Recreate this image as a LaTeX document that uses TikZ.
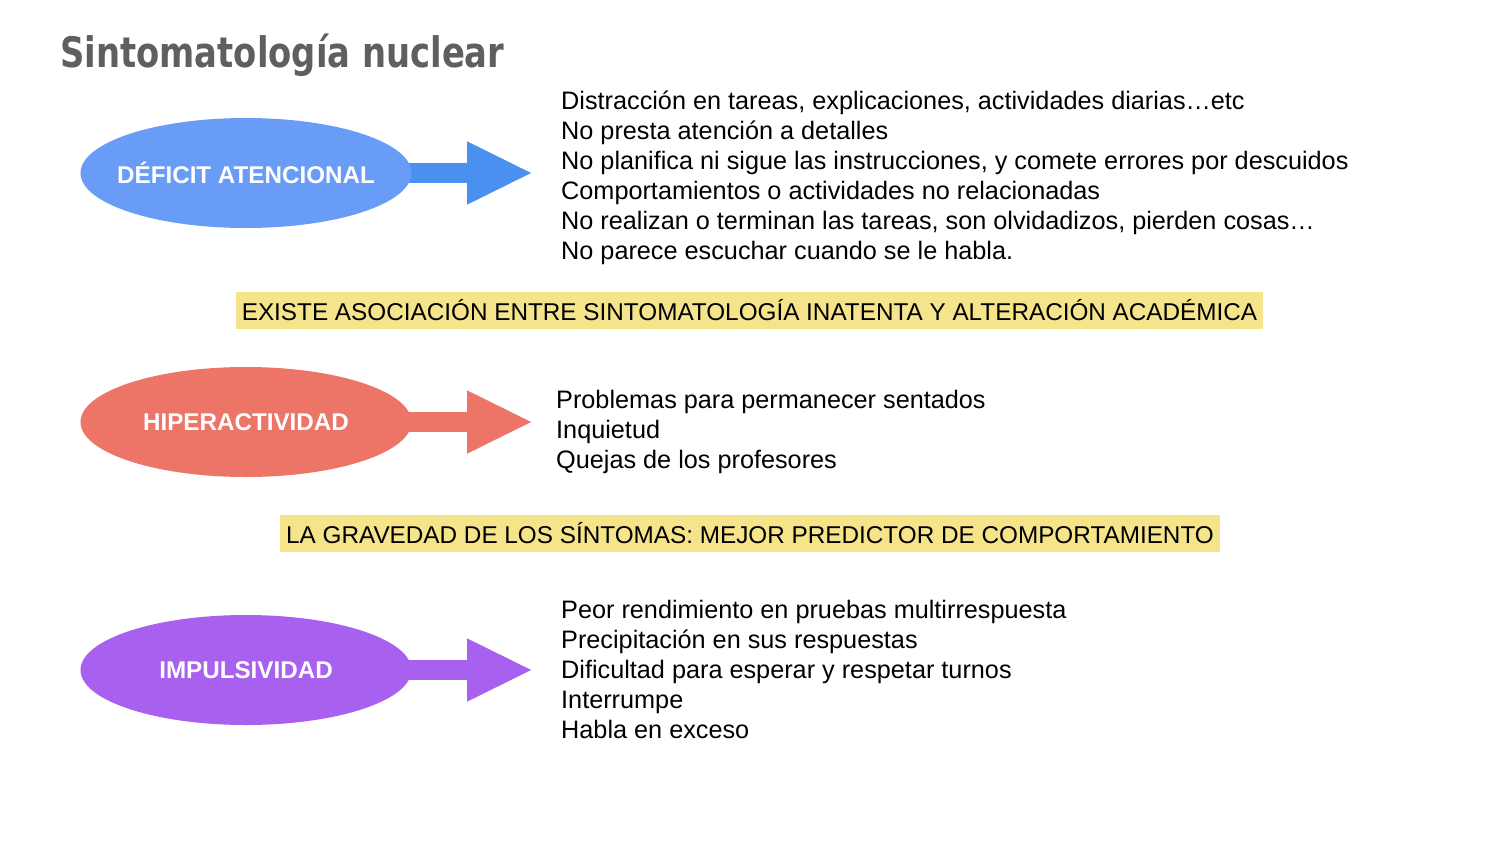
\documentclass[tikz,border=0pt]{standalone}
\usepackage{fontspec}
\setmainfont{Liberation Sans}
\newfontfamily\titlefont{DejaVu Sans}[FakeStretch=0.805]
\usetikzlibrary{shapes.geometric,arrows.meta}
\pgfdeclarelayer{background}
\pgfdeclarelayer{canvas}
\pgfsetlayers{canvas,background,main}
\definecolor{titlegray}{HTML}{5F5F5F}
\definecolor{blueell}{HTML}{699CF7}
\definecolor{bluearr}{HTML}{4A90F0}
\definecolor{redell}{HTML}{EC7568}
\definecolor{purpell}{HTML}{A860EE}
\definecolor{yellowbox}{HTML}{F5E48A}
\tikzset{
  ellbox/.style={ellipse, minimum width=331pt, minimum height=110pt, inner sep=0pt,
    text=white, font=\fontsize{24.2}{28}\selectfont\bfseries},
  listbox/.style={anchor=north west, inner sep=0pt, align=left,
    font=\fontsize{25.25}{30}\selectfont},
  notebox/.style={rectangle, fill=yellowbox, inner sep=0pt, minimum height=37pt,
    font=\fontsize{24.3}{30}\selectfont},
  bigarrow/.style={line width=20pt, -{Triangle[length=66pt,width=58pt]}, shorten >=28pt}
}
\begin{document}
\begin{tikzpicture}[x=1pt,y=-1pt]
\begin{pgfonlayer}{canvas}
\fill[white] (0,0) rectangle (1500,844);
\end{pgfonlayer}
\useasboundingbox (0,0) rectangle (1500,844);
\node[anchor=base west, inner sep=0pt, text=titlegray,
  font=\fontsize{42}{48}\titlefont\bfseries] (title) at (60,67) {Sintomatología nuclear};

\node[ellbox, fill=blueell] (e1) at (246,173) {\makebox[0pt]{DÉFICIT ATENCIONAL}};
\node[ellbox, fill=redell] (e2) at (246,422) {\makebox[0pt]{HIPERACTIVIDAD}};
\node[ellbox, fill=purpell] (e3) at (246,670) {\makebox[0pt]{IMPULSIVIDAD}};

\node[listbox] (l1) at (561,88) {\strut Distracción en tareas, explicaciones, actividades diarias…etc\\
\strut No presta atención a detalles\\
\strut No planifica ni sigue las instrucciones, y comete errores por descuidos\\
\strut Comportamientos o actividades no relacionadas\\
\strut No realizan o terminan las tareas, son olvidadizos, pierden cosas…\\
\strut No parece escuchar cuando se le habla.};

\node[listbox] (l2) at (556,387) {\strut Problemas para permanecer sentados\\
\strut Inquietud\\
\strut Quejas de los profesores};

\node[listbox] (l3) at (561,597) {\strut Peor rendimiento en pruebas multirrespuesta\\
\strut Precipitación en sus respuestas\\
\strut Dificultad para esperar y respetar turnos\\
\strut Interrumpe\\
\strut Habla en exceso};

\node[notebox, minimum width=1027pt] (n1) at (749.5,310.5) {EXISTE ASOCIACIÓN ENTRE SINTOMATOLOGÍA INATENTA Y ALTERACIÓN ACADÉMICA};
\node[notebox, minimum width=940pt] (n2) at (750,533) {LA GRAVEDAD DE LOS SÍNTOMAS: MEJOR PREDICTOR DE COMPORTAMIENTO};

\begin{pgfonlayer}{background}
\draw[bigarrow, draw=bluearr, fill=bluearr] (e1.center) -- (e1.center -| l1.west);
\draw[bigarrow, shorten >=23pt, draw=redell, fill=redell] (e2.center) -- (e2.center -| l2.west);
\draw[bigarrow, draw=purpell, fill=purpell] (e3.center) -- (e3.center -| l3.west);
\end{pgfonlayer}
\end{tikzpicture}
\end{document}
